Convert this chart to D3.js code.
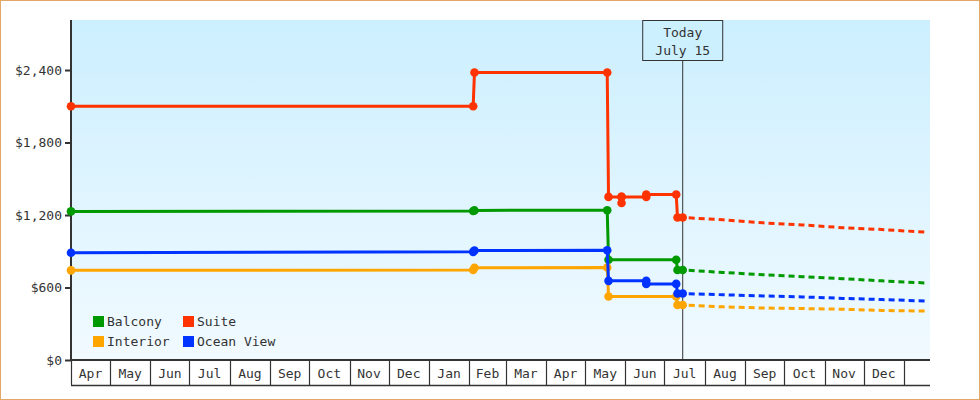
<!DOCTYPE html>
<html>
<head>
<meta charset="utf-8">
<script src="https://cdn.jsdelivr.net/npm/d3@7/dist/d3.min.js"></script>
<style>
  body { margin: 0; background: #fff; }
  svg text { font-family: "DejaVu Sans Mono", monospace; font-size: 13px; fill: #333; }
</style>
</head>
<body>
<div id="chart"></div>
<script>
// cabin price history, one pair of arrays per cabin type
var seriesNames = ["Balcony", "Suite", "Interior", "Ocean View"];
var seriesColors = ["#009900", "#ff3300", "#ffa500", "#0033ff"];

var balconyDates = ["2014-04-01", "2015-02-04", "2015-02-05", "2015-05-18", "2015-05-19", "2015-07-10", "2015-07-11", "2015-07-15"];
var balconyPrices = [1230, 1233, 1238, 1240, 830, 830, 745, 745];

var suiteDates = ["2014-04-01", "2015-02-04", "2015-02-05", "2015-05-18", "2015-05-19", "2015-05-29", "2015-05-29", "2015-05-29", "2015-06-17", "2015-06-17", "2015-07-10", "2015-07-11", "2015-07-15"];
var suitePrices = [2100, 2100, 2380, 2380, 1350, 1350, 1300, 1350, 1350, 1370, 1370, 1180, 1180];

var interiorDates = ["2014-04-01", "2015-02-04", "2015-02-05", "2015-05-18", "2015-05-19", "2015-07-10", "2015-07-11", "2015-07-15"];
var interiorPrices = [742, 745, 763, 765, 525, 525, 455, 455];

var oceanDates = ["2014-04-01", "2015-02-04", "2015-02-05", "2015-05-18", "2015-05-19", "2015-06-17", "2015-06-17", "2015-07-10", "2015-07-11", "2015-07-15"];
var oceanPrices = [888, 895, 906, 908, 655, 655, 630, 630, 550, 550];

// forecast (dashed) from today on
var forecastDates = ["2015-07-15", "2015-08-15", "2015-09-15", "2015-10-15", "2015-11-15", "2015-12-15", "2016-01-19"];
var balconyForecast = [745, 725, 705, 690, 673, 655, 637];
var suiteForecast = [1180, 1160, 1135, 1118, 1095, 1080, 1057];
var interiorForecast = [455, 440, 430, 426, 420, 410, 405];
var oceanForecast = [550, 540, 530, 522, 510, 500, 488];

var monthLabels = ["Apr", "May", "Jun", "Jul", "Aug", "Sep", "Oct", "Nov", "Dec", "Jan", "Feb", "Mar",
                   "Apr", "May", "Jun", "Jul", "Aug", "Sep", "Oct", "Nov", "Dec"];
var priceTicks = [0, 600, 1200, 1800, 2400];
var todayDate = "2015-07-15";
var todayLabel = ["Today", "July 15"];

(function () {
    var parse = d3.timeParse("%Y-%m-%d");

    var width = 980, height = 400;
    var plotLeft = 71, plotRight = 930, plotTop = 20, plotBottom = 360, cellBottom = 385;

    var svg = d3.select("#chart").append("svg").attr("width", width).attr("height", height);

    // outer border
    svg.append("rect").attr("x", 0.5).attr("y", 0.5).attr("width", width - 1).attr("height", height - 1)
        .attr("fill", "#fff").attr("stroke", "#e3a868");

    var grad = svg.append("defs").append("linearGradient").attr("id", "bg")
        .attr("x1", 0).attr("y1", 0).attr("x2", 0).attr("y2", 1);
    grad.append("stop").attr("offset", "0%").attr("stop-color", "#ccefff");
    grad.append("stop").attr("offset", "100%").attr("stop-color", "#f1faff");

    svg.append("rect").attr("x", plotLeft).attr("y", plotTop)
        .attr("width", plotRight - plotLeft).attr("height", plotBottom - plotTop)
        .attr("fill", "url(#bg)");

    var x = d3.scaleTime().domain([parse("2014-04-01"), parse("2016-01-21")]).range([plotLeft, plotRight]);
    var y = d3.scaleLinear().domain([0, 2814]).range([plotBottom, plotTop]);

    // y axis
    var yAxis = svg.append("g").attr("transform", "translate(" + plotLeft + ",0)")
        .call(d3.axisLeft(y).tickValues(priceTicks).tickSize(6).tickPadding(3)
            .tickFormat(function (d) { return "$" + d3.format(",")(d); }));
    yAxis.select(".domain").remove();
    yAxis.selectAll(".tick line").attr("stroke", "#333").attr("stroke-width", 2);
    yAxis.attr("font-family", null).attr("font-size", null);
    svg.append("line").attr("x1", plotLeft).attr("x2", plotLeft).attr("y1", plotTop).attr("y2", plotBottom + 1)
        .attr("stroke", "#333").attr("stroke-width", 2);

    // month cells under the plot
    var months = d3.timeMonths(parse("2014-04-01"), parse("2016-01-01"));
    var cells = svg.append("g");
    cells.append("line").attr("x1", plotLeft).attr("x2", plotRight).attr("y1", plotBottom).attr("y2", plotBottom)
        .attr("stroke", "#333").attr("stroke-width", 2);
    cells.append("line").attr("x1", plotLeft).attr("x2", plotRight)
        .attr("y1", cellBottom + 0.5).attr("y2", cellBottom + 0.5)
        .attr("stroke", "#333").attr("stroke-width", 1.5);
    cells.selectAll(".sep").data(months.concat([parse("2016-01-01")])).enter().append("line")
        .attr("x1", function (d) { return Math.round(x(d)) + 0.5; })
        .attr("x2", function (d) { return Math.round(x(d)) + 0.5; })
        .attr("y1", plotBottom).attr("y2", cellBottom)
        .attr("stroke", "#333").attr("stroke-width", 1.2);
    cells.selectAll(".mlabel").data(months).enter().append("text")
        .attr("x", function (d) { return (x(d) + x(d3.timeMonth.offset(d, 1))) / 2; })
        .attr("y", 378)
        .attr("text-anchor", "middle")
        .text(function (d, i) { return monthLabels[i]; });

    // today marker
    var tx = x(parse(todayDate));
    svg.append("line").attr("x1", tx).attr("x2", tx).attr("y1", 60).attr("y2", plotBottom)
        .attr("stroke", "#333").attr("stroke-width", 1);
    svg.append("rect").attr("x", tx - 40).attr("y", plotTop + 0.5).attr("width", 80).attr("height", 40)
        .attr("fill", "#cdf0ff").attr("stroke", "#333").attr("stroke-width", 1);
    svg.selectAll(".today").data(todayLabel).enter().append("text")
        .attr("x", tx).attr("y", function (d, i) { return 37 + i * 18; })
        .attr("text-anchor", "middle")
        .text(function (d) { return d; });

    // series
    var histories = [
        [balconyDates, balconyPrices, balconyForecast],
        [suiteDates, suitePrices, suiteForecast],
        [interiorDates, interiorPrices, interiorForecast],
        [oceanDates, oceanPrices, oceanForecast]
    ];

    var line = d3.line()
        .x(function (d) { return x(d.date); })
        .y(function (d) { return y(d.price); });

    histories.forEach(function (h, i) {
        var pts = h[0].map(function (d, j) { return { date: parse(d), price: h[1][j] }; });
        var fc = forecastDates.map(function (d, j) { return { date: parse(d), price: h[2][j] }; });
        var g = svg.append("g");

        g.append("path").datum(fc).attr("d", line)
            .attr("fill", "none").attr("stroke", seriesColors[i]).attr("stroke-width", 3)
            .attr("stroke-dasharray", "6,4").attr("stroke-dashoffset", -6);

        g.append("path").datum(pts).attr("d", line)
            .attr("fill", "none").attr("stroke", seriesColors[i]).attr("stroke-width", 3);

        g.selectAll("circle").data(pts).enter().append("circle")
            .attr("cx", function (d) { return x(d.date); })
            .attr("cy", function (d) { return y(d.price); })
            .attr("r", 4.3)
            .attr("fill", seriesColors[i]);
    });

    // legend: two columns, two rows
    var legend = svg.append("g").selectAll("g").data(seriesNames).enter().append("g")
        .attr("transform", function (d, i) {
            return "translate(" + (93 + (i % 2) * 90) + "," + (316 + Math.floor(i / 2) * 20) + ")";
        });
    legend.append("rect").attr("width", 11).attr("height", 11)
        .attr("fill", function (d, i) { return seriesColors[i]; });
    legend.append("text").attr("x", 14).attr("y", 10).text(function (d) { return d; });
})();
</script>
</body>
</html>
